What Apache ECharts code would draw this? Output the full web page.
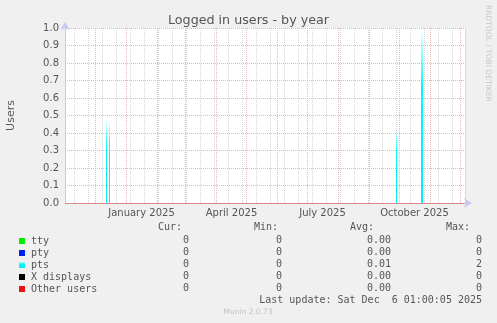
<!DOCTYPE html>
<html><head><meta charset="utf-8">
<script src="https://cdn.jsdelivr.net/npm/echarts@6/dist/echarts.min.js"></script>
<style>html,body{margin:0;padding:0;background:#f0f0f0;}#c{width:497px;height:323px;}</style>
</head><body><div id="c"></div>
<script>
// ---- data ----
const titleText = 'Logged in users - by year';
const startDate = '2024-11-01';
const dayCount = 400;
const seriesNames = ['tty', 'pty', 'pts', 'X displays', 'Other users'];
const seriesColors = ['#00ee00', '#0022ee', '#00ffff', '#000000', '#ee1111'];
const curVals = ['0', '0', '0', '0', '0'];
const minVals = ['0', '0', '0', '0', '0'];
const avgVals = ['0.00', '0.00', '0.01', '0.00', '0.00'];
const maxVals = ['0', '0', '2', '0', '0'];
const ptsSpikes = [['2024-12-12', 0.48], ['2024-12-15', 0.47], ['2025-09-28', 0.42], ['2025-10-23', 0.98], ['2025-10-24', 0.98]];
const yMin = 0, yMax = 1, yStep = 0.1;
const monthLabels = { '2025-01-16': 'January 2025', '2025-04-16': 'April 2025', '2025-07-16': 'July 2025', '2025-10-16': 'October 2025' };
const lastUpdate = 'Last update: Sat Dec  6 01:00:05 2025';
const versionText = 'Munin 2.0.73';
const sideText = 'RRDTOOL / TOBI OETIKER';

// ---- categories: one per day ----
const categories = [];
const d0 = new Date(startDate + 'T00:00:00Z');
for (let i = 0; i < dayCount; i++) {
  const d = new Date(d0.getTime() + i * 86400000);
  categories.push(d.toISOString().slice(0, 10));
}

const MONO = 'DejaVu Sans Mono';
const SANS = 'DejaVu Sans';
const TXT = '#555555';
const GRID = { left: 65, top: 28, width: 400, height: 175 };
const redGrid = '#ebb4b4';
const grayGrid = '#d6d6d6';
const axisCol = '#c4c8f4';

const chart = echarts.init(document.getElementById('c'), null, { renderer: 'canvas' });

const series = seriesNames.map((n, i) => ({
  name: n,
  type: 'bar',
  xAxisIndex: 1,
  barWidth: '100%',
  barGap: '-100%',
  itemStyle: { color: seriesColors[i] },
  data: [],
  silent: true,
  animation: false
}));
series[0].xAxisIndex = 0;
series[2].data = ptsSpikes.map(p => [p[0], p[1]]);
series[2].itemStyle = {
  color: new echarts.graphic.LinearGradient(0, 0, 0, 1, [
    { offset: 0, color: 'rgba(0,255,255,0.05)' },
    { offset: 0.32, color: 'rgba(0,250,250,1)' },
    { offset: 1, color: 'rgba(0,240,245,1)' }
  ])
};
series[2].markLine = {
  symbol: 'none', silent: true, label: { show: false }, animation: false,
  lineStyle: { color: '#dd8a8a', type: 'solid', width: 1 },
  data: [{ yAxis: 0 }]
};

// table graphics
const graphics = [];
const rowY0 = 240, rowStep = 12;
const hdr = [[182, 'Cur:'], [278, 'Min:'], [374, 'Avg:'], [470, 'Max:']];
hdr.forEach(([x, t]) => graphics.push({ type: 'text', x: x, y: 227, style: { text: t, font: '10px ' + MONO, fill: TXT, align: 'right', verticalAlign: 'middle' } }));
seriesNames.forEach((n, i) => {
  const y = rowY0 + i * rowStep;
  [[189, curVals], [282, minVals], [391, avgVals], [482, maxVals]].forEach(([x, arr]) => {
    graphics.push({ type: 'text', x: x, y: y, style: { text: arr[i], font: '10px ' + MONO, fill: TXT, align: 'right', verticalAlign: 'middle' } });
  });
});
graphics.push({ type: 'text', x: 482, y: 300, style: { text: lastUpdate, font: '10px ' + MONO, fill: TXT, align: 'right', verticalAlign: 'middle' } });
graphics.push({ type: 'text', x: 248, y: 312, style: { text: versionText, font: '7.5px ' + SANS, fill: '#c4c4c4', align: 'center', verticalAlign: 'middle' } });
graphics.push({ type: 'text', x: 488, y: 5, rotation: -Math.PI / 2, style: { text: sideText, font: '7.5px ' + SANS, fill: '#c8c8c8', align: 'left', verticalAlign: 'middle' } });

const option = {
  animation: false,
  backgroundColor: '#f0f0f0',
  title: {
    text: titleText, left: 'center', top: 9,
    textStyle: { fontFamily: SANS, fontSize: 12.7, fontWeight: 'normal', color: TXT }
  },
  grid: Object.assign({ backgroundColor: '#ffffff', show: true, borderWidth: 0, containLabel: false, outerBoundsMode: 'none' }, GRID),
  legend: {
    orient: 'vertical', left: 14, top: 230, itemWidth: 6, itemHeight: 6, itemGap: 0,
    icon: 'rect', selectedMode: false,
    textStyle: { fontFamily: MONO, fontSize: 10, color: TXT, lineHeight: 12, padding: [0, 0, 0, 1] },
    data: seriesNames
  },
  xAxis: [
    {
      type: 'category', data: categories, boundaryGap: true, position: 'bottom',
      min: 0, max: dayCount - 1,
      axisLine: { show: false }, axisTick: { show: false }, axisLabel: { show: false },
      splitLine: {
        show: true,
        interval: (idx) => idx >= 9 && (idx - 9) % 14 === 0,
        lineStyle: { color: grayGrid, type: [1, 1], width: 1 }
      }
    },
    {
      type: 'category', data: categories, boundaryGap: true, position: 'bottom',
      min: 0, max: dayCount - 1,
      axisLine: { show: true, lineStyle: { color: axisCol, width: 1 }, symbol: ['none', 'arrow'], symbolSize: [7, 8], symbolOffset: [0, 7] },
      axisTick: { show: false },
      axisLabel: {
        show: true,
        interval: (idx, val) => monthLabels[val] !== undefined,
        formatter: (val) => monthLabels[val] || '',
        fontFamily: SANS, fontSize: 10, color: TXT, margin: 5
      },
      splitLine: {
        show: true,
        interval: (idx, val) => val.slice(8, 10) === '01',
        lineStyle: { color: redGrid, type: [1, 1], width: 1 }
      }
    }
  ],
  yAxis: {
    type: 'value', min: yMin, max: yMax, interval: yStep,
    name: 'Users', nameLocation: 'middle', nameGap: 48,
    nameTextStyle: { fontFamily: SANS, fontSize: 11, color: TXT },
    axisLine: { show: true, lineStyle: { color: axisCol, width: 1 }, symbol: ['none', 'arrow'], symbolSize: [7, 8], symbolOffset: [0, 6] },
    axisTick: { show: false },
    axisLabel: { fontFamily: SANS, fontSize: 10, color: TXT, margin: 6, formatter: v => v.toFixed(1) },
    splitLine: { show: true, lineStyle: { color: redGrid, type: [1, 1], width: 1 } }
  },
  series: series,
  graphic: graphics
};
chart.setOption(option);
</script>
</body></html>
